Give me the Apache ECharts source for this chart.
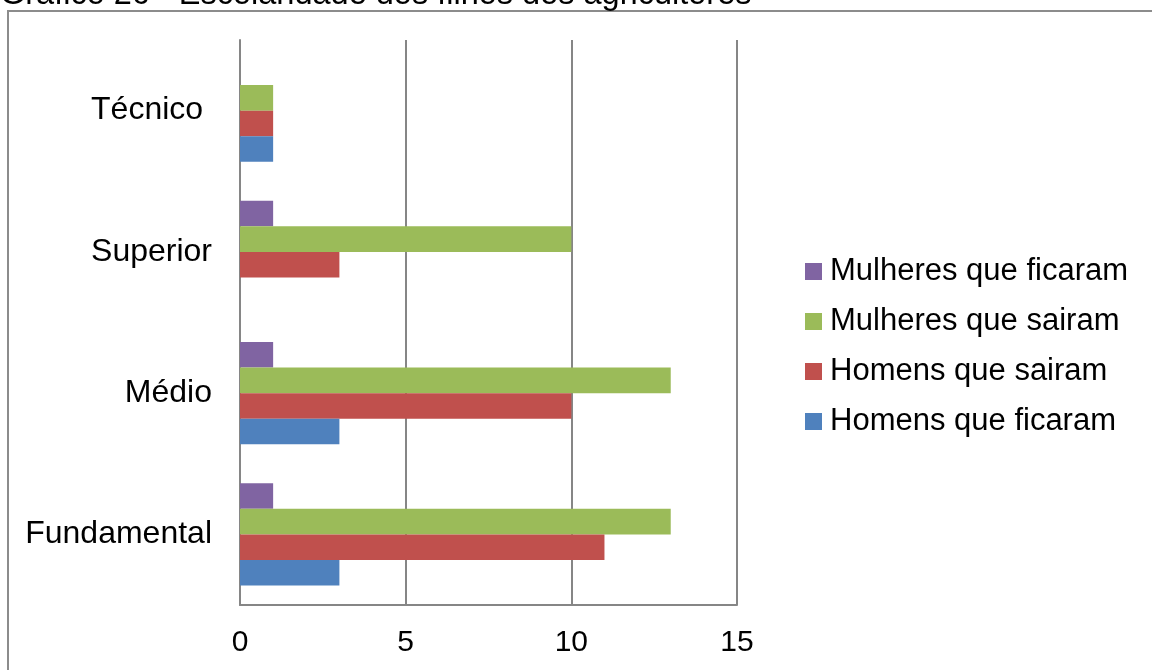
<!DOCTYPE html>
<html>
<head>
<meta charset="utf-8">
<script src="https://cdn.jsdelivr.net/npm/echarts@6/dist/echarts.min.js"></script>
<style>html,body{margin:0;padding:0;background:#fff;}#c{width:1152px;height:670px;}</style>
</head>
<body>
<div id="c"></div>
<script>
const categories = ['Fundamental', 'Médio', 'Superior', 'Técnico '];
const seriesNames = ['Mulheres que ficaram', 'Mulheres que sairam', 'Homens que sairam', 'Homens que ficaram'];
const mulheresFicaram = [1, 1, 1, 0];
const mulheresSairam = [13, 13, 10, 1];
const homensSairam = [11, 10, 3, 1];
const homensFicaram = [3, 3, 0, 1];
const xTicks = [0, 5, 10, 15];
const titleText = 'Gráfico 26 - Escolaridade dos filhos dos agricultores';

const colors = ['#8064A2', '#9BBB59', '#C0504D', '#4F81BD'];
const values = [mulheresFicaram, mulheresSairam, homensSairam, homensFicaram];
const font = 'Liberation Sans, Arial, sans-serif';

const chart = echarts.init(document.getElementById('c'), null, {renderer: 'canvas'});
chart.setOption({
  animation: false,
  color: colors,
  textStyle: {fontFamily: font},
  graphic: [
    {type: 'rect', shape: {x: 8, y: 11, width: 1160, height: 700}, style: {fill: 'none', stroke: '#8c8c8c', lineWidth: 2}, z: -1},
    {type: 'text', style: {text: titleText, x: 0, y: 12, font: '32.5px ' + font, fill: '#000', verticalAlign: 'bottom'}}
  ],
  grid: {left: 240, right: 1152 - 737, top: 40, bottom: 670 - 605, containLabel: false},
  xAxis: {
    type: 'value', min: 0, max: 15, interval: 5,
    axisLine: {show: true, lineStyle: {color: '#868686', width: 2}},
    axisTick: {show: false},
    splitLine: {show: true, lineStyle: {color: '#868686', width: 2}},
    axisLabel: {color: '#000', fontSize: 30, margin: 23, fontFamily: font,
      formatter: v => xTicks.includes(v) ? String(v) : ''}
  },
  yAxis: {
    type: 'category', data: categories,
    axisLine: {show: true, lineStyle: {color: '#868686', width: 2}},
    axisTick: {show: false},
    axisLabel: {color: '#000', fontSize: 32, margin: 28, fontFamily: font}
  },
  legend: {
    orient: 'vertical', left: 800, top: 251,
    data: seriesNames,
    itemWidth: 17, itemHeight: 17, itemGap: 19, icon: 'rect',
    textStyle: {fontSize: 31, color: '#000', fontFamily: font, padding: [0, 0, 0, 3]}
  },
  series: seriesNames.map((n, i) => ({
    name: n, type: 'bar', data: values[i],
    barCategoryGap: '27.6%', barGap: '0%',
    itemStyle: {color: colors[i]}
  }))
});
</script>
</body>
</html>
